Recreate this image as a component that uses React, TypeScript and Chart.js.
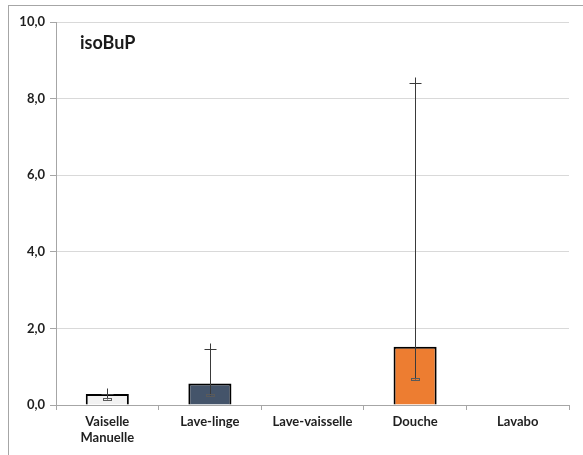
import React, { useEffect, useRef } from "react";
import { Chart, registerables } from "chart.js";

Chart.register(...registerables);

const categories: (string | string[])[] = [["Vaiselle", "Manuelle"], "Lave-linge", "Lave-vaisselle", "Douche", "Lavabo"];
const values: (number | null)[] = [0.29, 0.56, null, 1.52, null];
const highValues: (number | null)[] = [0.3, 1.45, null, 8.4, null];
const lowValues: (number | null)[] = [0.16, 0.26, null, 0.68, null];
const barColors = ["#f2f2f2", "#44546a", "#ffffff", "#ed7d31", "#ffffff"];
const yTicks = [0, 2, 4, 6, 8, 10];
const chartTitle = "isoBuP";

const FONT = "Lato, 'Open Sans', sans-serif";

const errorBarPlugin = {
  id: "errorBars",
  afterDatasetsDraw(chart: any) {
    const { ctx, scales } = chart;
    const xs = scales.x;
    const ys = scales.y;
    ctx.save();
    ctx.strokeStyle = "#3a3a3a";
    ctx.lineWidth = 1;
    for (let i = 0; i < categories.length; i++) {
      const hi = highValues[i];
      const lo = lowValues[i];
      if (hi == null || lo == null) continue;
      const x = Math.round(xs.getPixelForValue(i)) + 0.5;
      const yh = Math.round(ys.getPixelForValue(hi)) + 0.5;
      const yl = Math.round(ys.getPixelForValue(lo)) + 0.5;
      ctx.beginPath();
      ctx.moveTo(x, yh - 6);
      ctx.lineTo(x, yl);
      ctx.moveTo(x - 6, yh);
      ctx.lineTo(x + 6, yh);
      ctx.stroke();
      ctx.strokeStyle = "#5a5a5a";
      ctx.strokeRect(x - 4, yl - 1, 8, 2);
      ctx.strokeStyle = "#3a3a3a";
    }
    ctx.restore();
  },
};

const titlePlugin = {
  id: "innerTitle",
  afterDraw(chart: any) {
    const { ctx, chartArea } = chart;
    ctx.save();
    ctx.fillStyle = "#1a1a1a";
    ctx.font = `bold 18px ${FONT}`;
    ctx.textBaseline = "middle";
    ctx.textAlign = "left";
    ctx.fillText(chartTitle, chartArea.left + 24, chartArea.top + 21);
    ctx.restore();
  },
};

export default function App() {
  const ref = useRef<HTMLCanvasElement | null>(null);
  useEffect(() => {
    if (!ref.current) return;
    const chart = new Chart(ref.current, {
      type: "bar",
      data: {
        labels: categories as any,
        datasets: [
          {
            data: values as any,
            backgroundColor: barColors,
            borderColor: "#000000",
            borderWidth: 2,
            barPercentage: 0.42,
            categoryPercentage: 1,
          },
        ],
      },
      options: {
        responsive: false,
        animation: false,
        maintainAspectRatio: false,
        layout: { padding: { left: 0, top: 22, right: 14, bottom: 0 } },
        plugins: {
          legend: { display: false },
          tooltip: { enabled: false },
          title: { display: false },
        },
        scales: {
          x: {
            grid: {
              drawOnChartArea: false,
              drawTicks: true,
              tickLength: 5,
              color: "#a6a6a6",
              offset: true,
            },
            border: { color: "#a6a6a6", width: 1 },
            ticks: {
              color: "#1f1f1f",
              font: { family: FONT, size: 13, weight: "bold" },
              padding: 4,
              maxRotation: 0,
              autoSkip: false,
            },
            afterFit(scale: any) {
              scale.height = 50;
            },
          },
          y: {
            min: 0,
            max: 10,
            afterBuildTicks(scale: any) {
              scale.ticks = yTicks.map((v) => ({ value: v }));
            },
            grid: {
              color: "#d9d9d9",
              tickColor: "#a6a6a6",
              tickLength: 6,
              lineWidth: 1,
            },
            border: { color: "#a6a6a6", width: 1 },
            ticks: {
              color: "#1f1f1f",
              font: { family: FONT, size: 13, weight: "bold" },
              padding: 5,
              callback: (v: any) => Number(v).toFixed(1).replace(".", ","),
            },
            afterFit(scale: any) {
              scale.width = 56;
            },
          },
        },
      },
      plugins: [errorBarPlugin, titlePlugin],
    });
    return () => chart.destroy();
  }, []);

  return (
    <div style={{ position: "absolute", left: 0, top: 0, width: 583, height: 455, overflow: "hidden", background: "#fff" }}>
      <div
        style={{
          position: "absolute",
          left: 8,
          top: 5,
          width: 600,
          height: 500,
          border: "1px solid #a6a6a6",
          boxSizing: "border-box",
        }}
      />
      <canvas ref={ref} width={583} height={455} style={{ position: "absolute", left: 0, top: 0, width: 583, height: 455 }} />
    </div>
  );
}
